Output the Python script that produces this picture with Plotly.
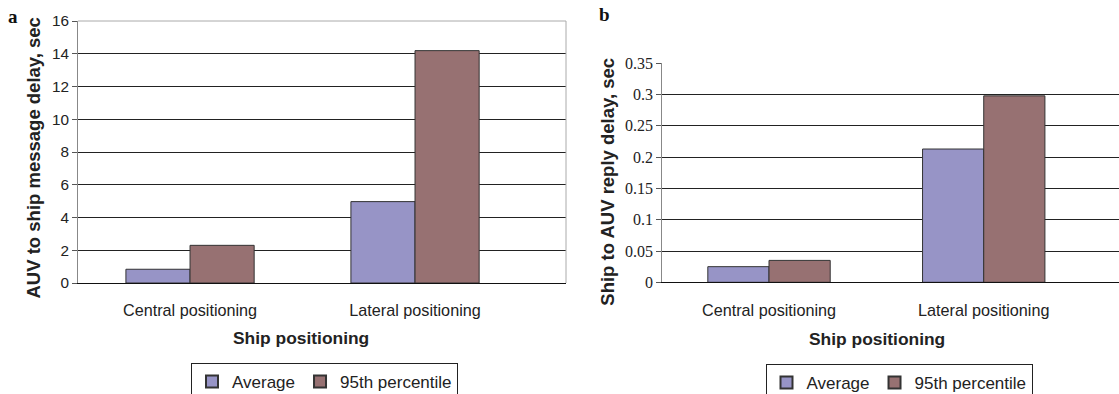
import plotly.graph_objects as go

categories = ["Central positioning", "Lateral positioning"]
series_names = ["Average", "95th percentile"]
a_average = [0.84, 4.97]
a_p95 = [2.30, 14.19]
b_average = [0.025, 0.213]
b_p95 = [0.035, 0.298]
a_yticks = [0, 2, 4, 6, 8, 10, 12, 14, 16]
b_yticks = [0, 0.05, 0.1, 0.15, 0.2, 0.25, 0.3, 0.35]
b_yticklabels = ["0", "0.05", "0.1", "0.15", "0.2", "0.25", "0.3", "0.35"]

AVG_COL = "#9794C6"
P95_COL = "#977172"
SANS = "Liberation Sans, Arial, sans-serif"
SERIF = "Liberation Serif, Times New Roman, serif"

xpos = list(range(len(categories)))
W, H = 1119, 394
A_XRANGE = [-0.498, 1.671]
B_XRANGE = [-0.497, 1.630]

fig = go.Figure()
fig.add_trace(go.Bar(x=xpos, y=a_average, name=series_names[0], marker=dict(color=AVG_COL, line=dict(color="#333", width=1)),
                     xaxis="x", yaxis="y", legend="legend"))
fig.add_trace(go.Bar(x=xpos, y=a_p95, name=series_names[1], marker=dict(color=P95_COL, line=dict(color="#333", width=1)),
                     xaxis="x", yaxis="y", legend="legend"))
fig.add_trace(go.Bar(x=xpos, y=b_average, name=series_names[0], marker=dict(color=AVG_COL, line=dict(color="#333", width=1)),
                     xaxis="x2", yaxis="y2", legend="legend2"))
fig.add_trace(go.Bar(x=xpos, y=b_p95, name=series_names[1], marker=dict(color=P95_COL, line=dict(color="#333", width=1)),
                     xaxis="x2", yaxis="y2", legend="legend2"))

def px_x(p):
    return p / W

def px_y(p):
    return (H - p) / H

xcommon = dict(tickvals=xpos, ticktext=categories, ticks="", showgrid=False, zeroline=False,
               showline=True, linecolor="#111", linewidth=1,
               tickfont=dict(family=SANS, size=16.2, color="#222"), ticklabelstandoff=13)
ycommon = dict(showgrid=True, gridcolor="#222", gridwidth=1, zeroline=False, showline=True, linecolor="#888",
               linewidth=1, ticks="outside", ticklen=5, tickcolor="#555")
tickaxis = dict(showgrid=False, zeroline=False, showline=False, ticks="outside", ticklen=5,
                tickcolor="#777", showticklabels=False)

legend_common = dict(orientation="h", xanchor="center", yanchor="top",
                     bordercolor="#222", borderwidth=1, font=dict(family=SANS, size=17, color="#222"),
                     itemsizing="constant", traceorder="normal", itemwidth=30)

fig.update_layout(
    width=W, height=H, margin=dict(l=0, r=0, t=0, b=0, autoexpand=False),
    paper_bgcolor="white", plot_bgcolor="white",
    barmode="group", bargap=0.43, bargroupgap=0,
    showlegend=True,
    xaxis=dict(domain=[px_x(78), px_x(566)], range=A_XRANGE, anchor="y", **xcommon),
    yaxis=dict(domain=[px_y(283), px_y(21)], range=[0, 16], tickvals=a_yticks, anchor="x",
               tickfont=dict(family=SANS, size=15.3, color="#222"), **ycommon),
    xaxis2=dict(domain=[px_x(662.3), 1.0], range=B_XRANGE, anchor="y2", **xcommon),
    yaxis2=dict(domain=[px_y(282.3), px_y(63.3)], range=[0, 0.35], tickvals=b_yticks, ticktext=b_yticklabels,
                anchor="x2", tickfont=dict(family=SERIF, size=16, color="#222"), **ycommon),
    # category-boundary tick marks
    xaxis3=dict(overlaying="x", anchor="y", range=A_XRANGE, tickvals=[-0.5, 0.5, A_XRANGE[1]], **tickaxis),
    xaxis4=dict(overlaying="x2", anchor="y2", range=B_XRANGE, tickvals=[-0.5, 0.5], **tickaxis),
    legend=dict(x=px_x(324.5), y=px_y(363), **legend_common),
    legend2=dict(x=px_x(899), y=px_y(364), **legend_common),
)

# plot-area border (top and right) of panel a
fig.add_shape(type="line", xref="x domain", yref="y domain", x0=0, x1=1, y0=1, y1=1, line=dict(color="#aaa", width=1))
fig.add_shape(type="line", xref="x domain", yref="y domain", x0=1, x1=1, y0=0, y1=1, line=dict(color="#aaa", width=1))

annots = [
    dict(text="<b>AUV to ship message delay, sec</b>", x=px_x(33), y=px_y(158.5), textangle=-90,
         font=dict(family=SANS, size=18.5, color="#222")),
    dict(text="<b>Ship to AUV reply delay, sec</b>", x=px_x(606.7), y=px_y(182), textangle=-90,
         font=dict(family=SANS, size=18.5, color="#222")),
    dict(text="<b>Ship positioning</b>", x=px_x(301), y=px_y(338), font=dict(family=SANS, size=17.4, color="#222")),
    dict(text="<b>Ship positioning</b>", x=px_x(877), y=px_y(339), font=dict(family=SANS, size=17.4, color="#222")),
    dict(text="<b>a</b>", x=px_x(12.5), y=px_y(17), font=dict(family=SERIF, size=19, color="#111")),
    dict(text="<b>b</b>", x=px_x(604), y=px_y(15), font=dict(family=SERIF, size=19, color="#111")),
]
for a in annots:
    fig.add_annotation(xref="paper", yref="paper", showarrow=False, xanchor="center", yanchor="middle", **a)

fig.write_html("out.html")
